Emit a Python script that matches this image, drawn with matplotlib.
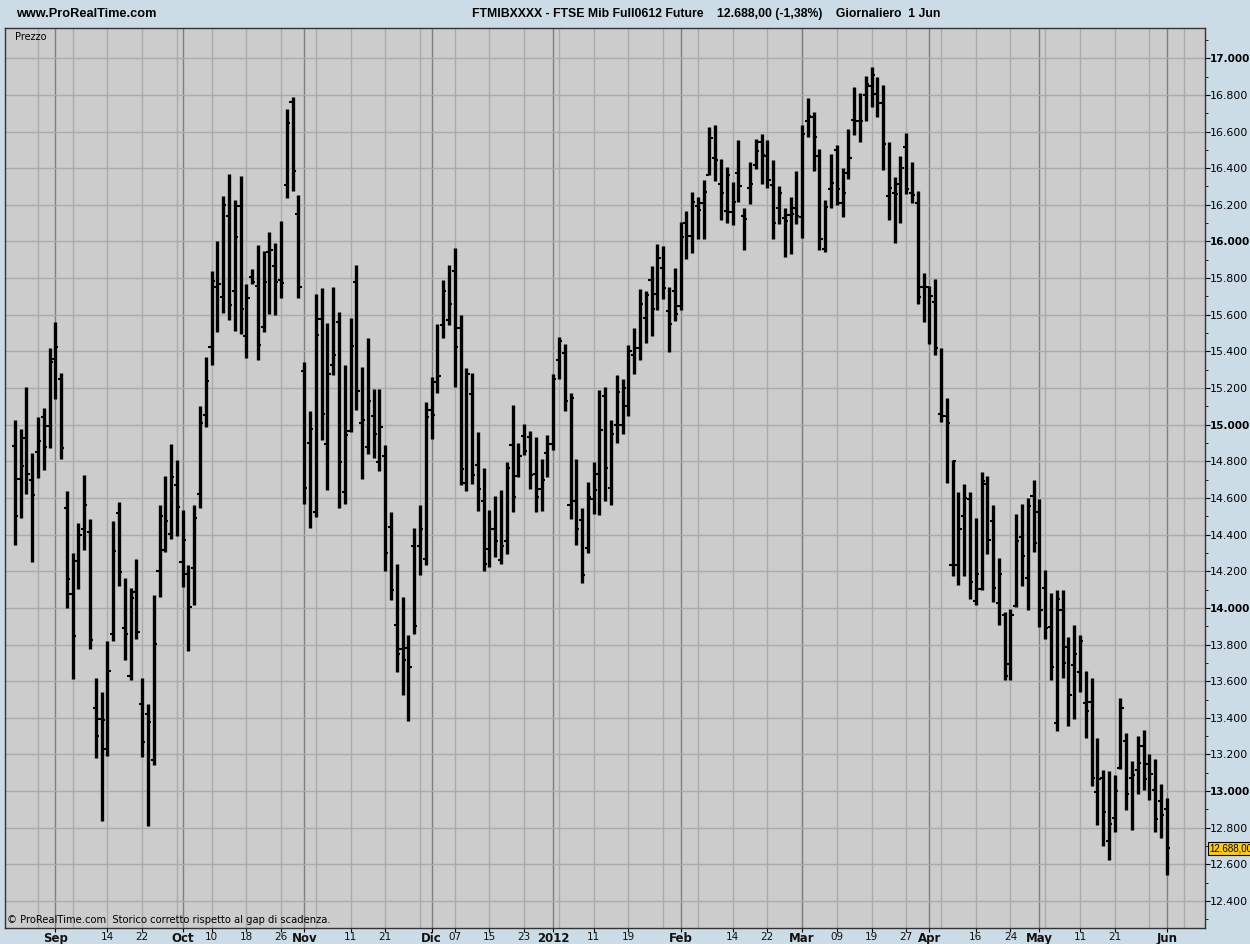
import numpy as np
import pandas as pd
import matplotlib
matplotlib.use("Agg")
import matplotlib.pyplot as plt
import matplotlib.transforms as mtransforms

# daily OHLC, FTSE Mib future, 23 Aug 2011 - 1 Jun 2012
opens = [14884, 14702, 14927, 14696, 14849, 15043, 14993, 15360, 15248, 14547,
         14076, 14257, 14432, 14416, 13454, 13395, 13229, 13858, 14519, 13893,
         13631, 14087, 13478, 13421, 13170, 14202, 14318, 14401, 14672, 14253,
         14185, 14218, 14622, 15052, 15426, 15751, 15698, 16139, 15731, 16194,
         15482, 15805, 15756, 15535, 15943, 15865, 15789, 16308, 16762, 16148,
         15292, 14900, 14522, 15577, 14896, 15326, 15562, 14633, 14965, 15778,
         15007, 14880, 15045, 14798, 14827, 14442, 13905, 13774, 13780, 14337,
         14340, 14269, 15082, 15231, 15545, 15573, 15840, 15527, 14682, 15169,
         14782, 14586, 14322, 14431, 14264, 14367, 14889, 14722, 14940, 14935,
         14731, 14650, 14844, 14895, 15351, 15391, 14564, 14586, 14482, 14327,
         14597, 14731, 15155, 14655, 15000, 15000, 15100, 15378, 15420, 15582,
         15787, 15715, 15856, 15620, 15727, 15647, 16100, 16029, 16191, 16209,
         16365, 16455, 16315, 16164, 16160, 16375, 16138, 16291, 16420, 16542,
         16469, 16309, 16184, 16127, 16142, 16184, 16133, 16660, 16677, 16466,
         15960, 16284, 16497, 16210, 16371, 16664, 16656, 16800, 16848, 16806,
         16758, 16250, 16263, 16315, 16514, 16263, 16210, 15751, 15751, 15667,
         15061, 15050, 14235, 14235, 14502, 14597, 14036, 14103, 14674, 14475,
         14026, 13962, 13695, 14009, 14385, 14162, 14609, 14525, 14107, 13898,
         13373, 13986, 13789, 13689, 13649, 13482, 13486, 12995, 13071, 12726,
         12853, 13126, 13276, 13073, 13118, 13244, 13149, 13004, 12944, 12904]
highs = [15028, 14976, 15203, 14844, 15041, 15089, 15419, 15561, 15283, 14639,
         14297, 14463, 14725, 14484, 13618, 13541, 13820, 14475, 14576, 14161,
         14111, 14268, 13615, 13478, 14070, 14561, 14720, 14897, 14805, 14535,
         14235, 14561, 15102, 15368, 15840, 16003, 16248, 16366, 16228, 16355,
         15767, 15847, 15978, 15949, 16052, 15989, 16114, 16724, 16787, 16252,
         15344, 15074, 15711, 15744, 15557, 15751, 15617, 15328, 15584, 15871,
         15317, 15475, 15197, 15197, 14889, 14524, 14239, 14059, 13852, 14435,
         14564, 15122, 15260, 15551, 15789, 15869, 15965, 15600, 15309, 15282,
         14960, 14764, 14533, 14609, 14646, 14798, 15106, 14900, 15004, 14967,
         14935, 14815, 14946, 15275, 15480, 15440, 15173, 14815, 14547, 14686,
         14797, 15191, 15205, 15024, 15273, 15251, 15433, 15529, 15742, 15727,
         15866, 15984, 15973, 15751, 15855, 16106, 16167, 16269, 16245, 16333,
         16627, 16638, 16451, 16405, 16327, 16555, 16182, 16433, 16560, 16587,
         16555, 16445, 16304, 16184, 16242, 16387, 16638, 16785, 16706, 16503,
         16227, 16478, 16524, 16399, 16612, 16844, 16810, 16905, 16953, 16900,
         16854, 16545, 16353, 16468, 16593, 16434, 16273, 15830, 15757, 15797,
         15416, 15144, 14806, 14632, 14678, 14632, 14490, 14741, 14722, 14559,
         14272, 13980, 13995, 14513, 14567, 14598, 14700, 14595, 14209, 14082,
         14098, 14098, 13840, 13904, 13853, 13658, 13620, 13289, 13118, 13109,
         13086, 13507, 13318, 13167, 13300, 13331, 13204, 13176, 13040, 12962]
lows = [14342, 14489, 14620, 14251, 14711, 14751, 14871, 15139, 14814, 13999,
        13611, 14102, 14318, 13773, 13179, 12838, 13192, 13821, 14118, 13716,
        13606, 13831, 13187, 12809, 13142, 14058, 14303, 14377, 14395, 14115,
        13766, 14017, 14547, 14985, 15328, 15504, 15611, 15571, 15513, 15493,
        15366, 15769, 15355, 15508, 15604, 15597, 15691, 16237, 16277, 15691,
        14569, 14437, 14495, 14914, 14642, 15270, 14546, 14569, 14960, 15081,
        14704, 14840, 14820, 14747, 14201, 14041, 13649, 13524, 13385, 13860,
        14178, 14233, 14922, 15173, 15473, 15542, 15204, 14671, 14636, 14678,
        14531, 14200, 14222, 14278, 14240, 14295, 14524, 14713, 14833, 14649,
        14524, 14531, 14713, 14860, 15251, 15076, 14486, 14342, 14137, 14297,
        14513, 14509, 14582, 14564, 14900, 14950, 15050, 15278, 15351, 15447,
        15482, 15624, 15687, 15396, 15566, 15624, 15902, 15938, 16015, 16011,
        16360, 16329, 16118, 16102, 16091, 16215, 15955, 16205, 16396, 16315,
        16291, 16011, 16096, 15915, 15929, 16096, 16020, 16570, 16384, 15955,
        15943, 16183, 16200, 16133, 16340, 16583, 16541, 16660, 16733, 16677,
        16392, 16116, 15991, 16100, 16259, 16210, 15656, 15562, 15441, 15381,
        15013, 14684, 14172, 14126, 14172, 14047, 14015, 14099, 14293, 14030,
        13904, 13604, 13604, 14004, 14118, 13991, 14307, 13898, 13831, 13607,
        13327, 13620, 13358, 13395, 13540, 13289, 13027, 12813, 12698, 12622,
        12777, 13122, 12895, 12786, 12986, 13004, 12949, 12776, 12744, 12544]
closes = [14499, 14775, 14729, 14617, 14912, 14880, 15340, 15425, 14873, 14157,
          13844, 14399, 14563, 13825, 13303, 13390, 13654, 14308, 14196, 13858,
          14052, 13869, 13266, 13379, 13801, 14502, 14475, 14714, 14548, 14373,
          14004, 14491, 15010, 15237, 15784, 15767, 16199, 15653, 16023, 15629,
          15693, 15780, 15433, 15778, 15954, 15778, 15771, 16644, 16386, 15749,
          14655, 14974, 15488, 15056, 15277, 15381, 14798, 14943, 15428, 15185,
          15025, 15128, 14947, 14985, 14297, 14099, 13747, 13718, 13680, 13900,
          14430, 15040, 15055, 15264, 15731, 15658, 15424, 14758, 15278, 14726,
          14649, 14240, 14431, 14366, 14337, 14764, 14606, 14831, 14858, 14724,
          14606, 14700, 14896, 15251, 15455, 15127, 15147, 14433, 14182, 14604,
          14644, 14969, 14764, 14950, 15180, 15200, 15400, 15420, 15660, 15706,
          15633, 15911, 15746, 15551, 15604, 16024, 16029, 16218, 16169, 16269,
          16564, 16447, 16264, 16360, 16215, 16305, 16120, 16315, 16496, 16473,
          16333, 16102, 16264, 16111, 16151, 16138, 16587, 16687, 16570, 16012,
          16190, 16319, 16284, 16263, 16457, 16656, 16660, 16859, 16911, 16758,
          16530, 16290, 16259, 16403, 16284, 16252, 15698, 15751, 15702, 15416,
          15050, 15008, 14800, 14433, 14601, 14141, 14183, 14695, 14371, 14109,
          14183, 13631, 13962, 14367, 14285, 14555, 14355, 13986, 13891, 13676,
          14046, 13698, 13522, 13749, 13822, 13440, 13073, 13064, 12886, 12822,
          12998, 13453, 12982, 13086, 13155, 13064, 13095, 12846, 12871, 12688]

holidays = ["2011-12-26", "2012-04-06", "2012-04-09", "2012-05-01"]
dates = pd.bdate_range("2011-08-23", "2012-06-01")
dates = dates[~dates.isin(pd.to_datetime(holidays))]

month_names = {9: "Sep", 10: "Oct", 11: "Nov", 12: "Dic", 1: "2012", 2: "Feb",
               3: "Mar", 4: "Apr", 5: "May", 6: "Jun"}
last_price = 12688
title = "FTMIBXXXX - FTSE Mib Full0612 Future    12.688,00 (-1,38%)    Giornaliero  1 Jun"

BG = "#cbdce6"
FACE = "#cccccc"
NARROW = ["Liberation Sans Narrow", "Liberation Sans"]
W, H = 1250, 944

fig = plt.figure(figsize=(W / 100, H / 100), dpi=100, facecolor=BG)
ax = fig.add_axes([5 / W, 1 - 928 / H, 1200 / W, 900 / H], facecolor=FACE)

x = np.arange(len(opens))
ax.vlines(x, lows, highs, color="black", lw=2.4, zorder=3)
ax.hlines(opens, x - 0.55, x, color="black", lw=1.5, zorder=3)
ax.hlines(closes, x, x + 0.55, color="black", lw=1.5, zorder=3)

ax.set_xlim(-1.69, 205.6)
ax.set_ylim(12253, 17165)

# vertical grid: every 6 sessions + month starts
grid_idx = list(range(4, 206, 6))
month_idx = [i for i in range(1, len(dates)) if dates[i].month != dates[i - 1].month]
for g in grid_idx:
    ax.axvline(g, color="#ababab", lw=1, zorder=1)
for m in month_idx:
    ax.axvline(m, color="#7f7f7f", lw=1, zorder=1)

# horizontal grid every 200
for v in range(12400, 17001, 200):
    ax.axhline(v, color="#ababab", lw=1, zorder=1)

# x labels
lab_pos, lab_txt, lab_bold = [], [], []
for m in month_idx:
    lab_pos.append(m)
    lab_txt.append(month_names[dates[m].month])
    lab_bold.append(True)
for g in grid_idx:
    if g >= len(dates) or g < 8:
        continue
    if min(abs(g - m) for m in month_idx) <= 3:
        continue
    lab_pos.append(g)
    lab_txt.append(dates[g].strftime("%d"))
    lab_bold.append(False)
ax.set_xticks(lab_pos)
ax.set_xticklabels(lab_txt)
for t, b in zip(ax.get_xticklabels(), lab_bold):
    t.set_fontweight("bold" if b else "normal")
    t.set_fontsize(8.5 if b else 7.5)
ax.tick_params(axis="x", length=3, pad=0, colors="black", labelcolor="#111111")

# y axis on right
ax.yaxis.tick_right()
yt = list(range(12400, 17001, 200))
ax.set_yticks(yt)
ax.set_yticklabels([f"{v:,}".replace(",", ".") for v in yt])
for t, v in zip(ax.get_yticklabels(), yt):
    t.set_fontweight("bold" if v % 1000 == 0 else "normal")
    t.set_fontsize(7.5 if v % 1000 == 0 else 7.9)
ax.set_yticks(range(12300, 17101, 100), minor=True)
ax.tick_params(axis="y", which="major", length=3.5, pad=0.3)
ax.tick_params(axis="y", which="minor", length=2.5)

for s in ax.spines.values():
    s.set_color("#333333")
    s.set_linewidth(1)

# last price flag
tr = mtransforms.blended_transform_factory(ax.transAxes, ax.transData)
ax.text(1.0035, last_price, "12.688,00", transform=tr, fontsize=7.0, family=NARROW,
        va="center", ha="left",
        bbox=dict(boxstyle="square,pad=0.15", fc="#ffcc00", ec="black", lw=0.8),
        clip_on=False, zorder=5)

# texts
fig.text(16 / W, 1 - 14 / H, "www.ProRealTime.com", fontsize=9.2, fontweight="bold",
         family=NARROW, va="center", ha="left")
fig.text(472 / W, 1 - 14 / H, title, fontsize=8.8, fontweight="bold",
         family=NARROW, va="center", ha="left")
ax.text(0.008, 0.995, "Prezzo", transform=ax.transAxes, fontsize=7, va="top", ha="left")
ax.text(0.002, 0.003, "\u00a9 ProRealTime.com  Storico corretto rispetto al gap di scadenza.",
        transform=ax.transAxes, fontsize=7.2, va="bottom", ha="left")

fig.savefig("out.png", dpi=100, facecolor=BG)
